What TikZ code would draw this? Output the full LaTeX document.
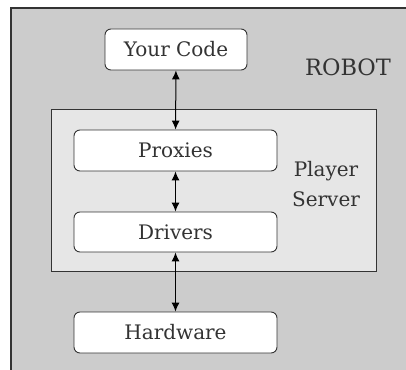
\documentclass[tikz,border=0pt]{standalone}
\usepackage{fontspec}
\setmainfont{DejaVu Serif}
\usetikzlibrary{arrows.meta}
\definecolor{robotgray}{HTML}{CCCCCC}
\definecolor{servergray}{HTML}{E6E6E6}
\definecolor{linegray}{HTML}{333333}
\tikzset{
  layer/.style={draw=linegray, fill=white, line width=0.9pt, rounded corners=6pt, minimum height=41pt, font=\fontsize{20}{24}\selectfont, text=linegray},
  link/.style={{Latex[length=9pt,width=8pt]}-{Latex[length=9pt,width=8pt]}, line width=1pt}
}
\begin{document}
\begin{tikzpicture}[x=1pt, y=-1pt]
\useasboundingbox (0,0) rectangle (406,369);
\draw [draw=linegray, fill=robotgray, line width=1.3pt] (11,8) rectangle (420,380);
\draw [draw=linegray, fill=servergray, line width=1pt] (51,109) rectangle (376,271);

\node (code) at (176,49.5) [layer, minimum width=142pt] {Your Code};
\node (prox) at (175.5,150.5) [layer, minimum width=203pt] {Proxies};
\node (drv) at (175.5,232) [layer, minimum width=203pt, minimum height=40pt] {Drivers};
\node (hw) at (175.5,332.5) [layer, minimum width=203pt] {Hardware};

\node (robot) at (348,67) [font=\fontsize{22.5}{26}\selectfont, text=linegray] {ROBOT};
\node (server) at (326,184) [align=center, font=\fontsize{20}{30}\selectfont, text=linegray] {Player\\Server};

\draw [link] (code) -> (prox);
\draw [link] (prox) -> (drv);
\draw [link] (drv) -> (hw);
\end{tikzpicture}
\end{document}
